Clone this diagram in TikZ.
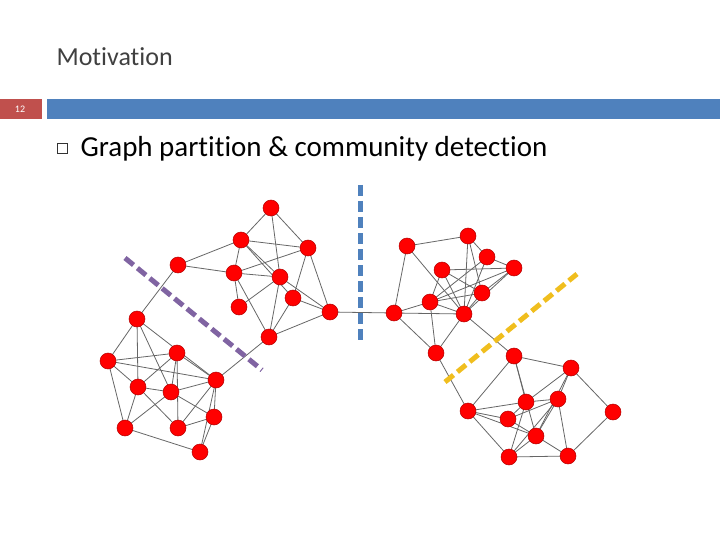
\documentclass[tikz,border=0pt]{standalone}
\usepackage{fontspec}
\setmainfont[Ligatures=NoCommon]{Carlito}
\begin{document}
\begin{tikzpicture}[x=1pt,y=-1pt,
 v/.style={circle,fill=red,draw=red!70!black,line width=0.5pt,minimum size=16pt,inner sep=0pt},
 ed/.style={draw=black!60,line width=0.8pt},
 cut/.style={line width=5pt,dash pattern=on 11pt off 5pt}]
\useasboundingbox (0,0) rectangle (720,540);
\node[anchor=west,text=black!75,font=\fontsize{26}{30}\selectfont] (title) at (53,57) {Motivation};
\fill[fill={rgb,255:red,192;green,80;blue,77}] (0,99) rectangle (42,119);
\node[text=white,font=\fontsize{10}{11}\selectfont] (num) at (20,109) {12};
\fill[fill={rgb,255:red,79;green,129;blue,189}] (47,99) rectangle (720,119);
\node[draw=black!80,line width=1pt,minimum size=10pt,inner sep=0pt] (bul) at (62,149) {};
\node[anchor=west,font=\fontsize{29}{34}\selectfont] (head) at (77,149) {Graph partition \& community detection};
% nodes
\foreach \n/\x/\y in {a1/271/208,a2/241/240,a3/308/248,a4/178/265,a5/234/273,a6/280/277,a7/293/298,a8/239/307,a9/330/312,a10/269/337,
 b1/137/319,b2/108/361,b3/177/353,b4/216/380,b5/138/387,b6/171/392,b7/214/417,b8/125/428,b9/178/428,b10/200/452,
 c1/407/246,c2/468/236,c3/487/257,c4/442/270,c5/514/268,c6/482/293,c7/430/302,c8/394/313,c9/464/314,c10/436/353,
 d1/514/356,d2/571/368,d3/526/402,d4/558/399,d5/613/412,d6/468/411,d7/508/419,d8/536/436,d9/509/457,d10/568/456}
  \coordinate (\n) at (\x,\y);
\foreach \p/\q in {a1/a2,a1/a3,a1/a6,a2/a3,a2/a4,a2/a5,a2/a6,a2/a7,a3/a5,a3/a9,a3/a7,a4/a5,a5/a6,a5/a8,a5/a10,a6/a10,a6/a8,a6/a9,a7/a9,a7/a10,a9/a10,a4/b1,a10/b4,a9/c8,
 b1/b2,b1/b5,b1/b6,b1/b4,b2/b3,b2/b4,b2/b5,b2/b8,b3/b5,b3/b6,b3/b4,b3/b9,b4/b6,b4/b7,b4/b9,b4/b10,b5/b6,b5/b8,b5/b9,b6/b7,b6/b8,b7/b9,b7/b10,b8/b10,
 c1/c2,c1/c8,c1/c9,c2/c3,c2/c9,c2/c6,c3/c5,c3/c7,c4/c5,c4/c7,c4/c9,c4/c6,c5/c6,c5/c9,c5/c7,c6/c9,c6/c7,c7/c8,c7/c9,c7/c10,c8/c9,c8/c10,c9/c10,c9/d1,c10/d6,c3/c9,
 d1/d2,d1/d3,d1/d6,d1/d8,d2/d3,d2/d4,d2/d5,d2/d8,d3/d4,d3/d6,d3/d7,d3/d9,d4/d7,d4/d8,d4/d9,d5/d10,d6/d7,d6/d8,d6/d9,d7/d8,d8/d9,d8/d10,d9/d10,d4/d10}
  \draw[ed] (\p) -- (\q);
\foreach \n in {a1,a2,a3,a4,a5,a6,a7,a8,a9,a10,b1,b2,b3,b4,b5,b6,b7,b8,b9,b10,c1,c2,c3,c4,c5,c6,c7,c8,c9,c10,d1,d2,d3,d4,d5,d6,d7,d8,d9,d10}
  \node[v] (n\n) at (\n) {};
% cuts
\coordinate (p1) at (125,258); \coordinate (p2) at (262,370);
\coordinate (q1) at (360,185); \coordinate (q2) at (360,345);
\coordinate (r1) at (445,382); \coordinate (r2) at (577,274);
\draw[cut,draw={rgb,255:red,128;green,100;blue,162}] (p1) -- (p2);
\draw[cut,draw={rgb,255:red,79;green,129;blue,189}] (q1) -- (q2);
\draw[cut,draw={rgb,255:red,240;green,190;blue,30}] (r1) -- (r2);
\end{tikzpicture}
\end{document}
